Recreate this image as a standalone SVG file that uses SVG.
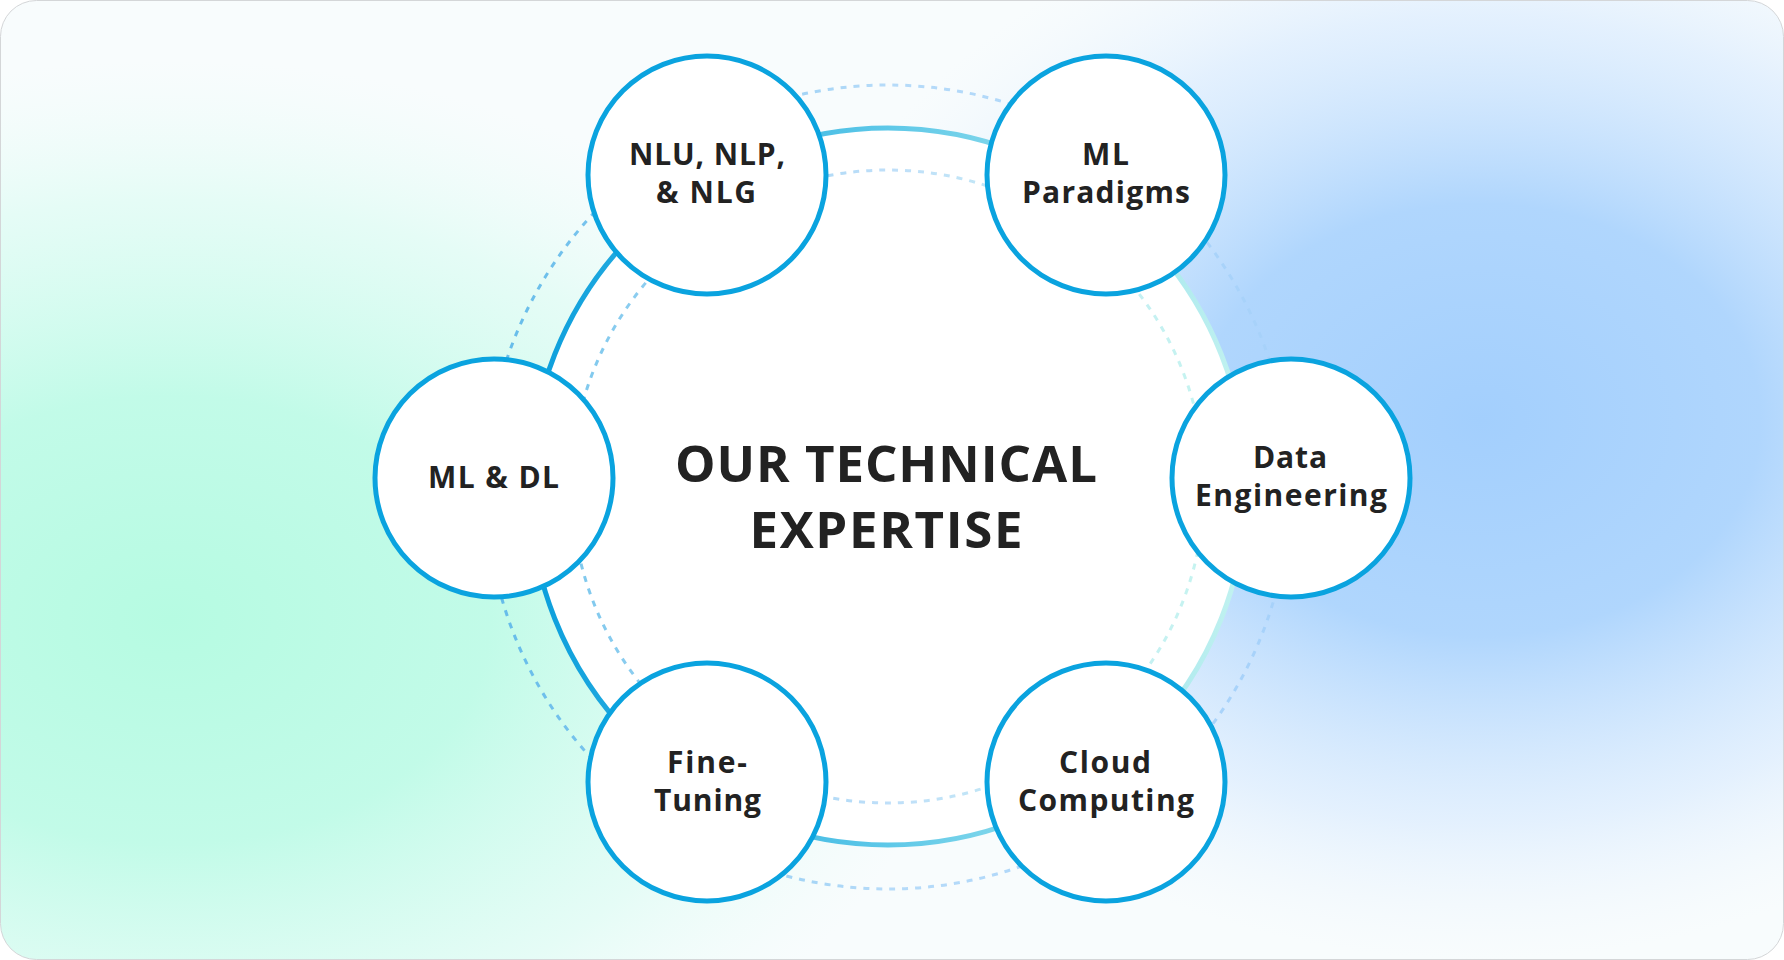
<svg xmlns="http://www.w3.org/2000/svg" width="1784" height="960" viewBox="0 0 1784 960">
  <defs>
    <radialGradient id="mint" gradientUnits="userSpaceOnUse" cx="0" cy="0" r="1" gradientTransform="translate(170 620) scale(800 560)">
      <stop offset="0" stop-color="#b6fbe2" stop-opacity="1"/>
      <stop offset="0.4" stop-color="#bffbe7" stop-opacity="0.95"/>
      <stop offset="0.75" stop-color="#d2fcef" stop-opacity="0.5"/>
      <stop offset="1" stop-color="#e6fdf6" stop-opacity="0"/>
    </radialGradient>
    <radialGradient id="blue" gradientUnits="userSpaceOnUse" cx="0" cy="0" r="1" gradientTransform="translate(1480 420) scale(700 540)">
      <stop offset="0" stop-color="#a3cffd" stop-opacity="1"/>
      <stop offset="0.4" stop-color="#acd4fd" stop-opacity="0.95"/>
      <stop offset="0.75" stop-color="#cfe5fe" stop-opacity="0.5"/>
      <stop offset="1" stop-color="#eaf3fe" stop-opacity="0"/>
    </radialGradient>
    <linearGradient id="ringSolid" gradientUnits="userSpaceOnUse" x1="529" y1="0" x2="1247" y2="0">
      <stop offset="0" stop-color="#0a9edc"/>
      <stop offset="0.5" stop-color="#5ec8e8"/>
      <stop offset="1" stop-color="#c4f3f0"/>
    </linearGradient>
    <linearGradient id="ringOuter" gradientUnits="userSpaceOnUse" x1="486" y1="0" x2="1290" y2="0">
      <stop offset="0" stop-color="#62bbe9"/>
      <stop offset="0.5" stop-color="#b6dbf9"/>
      <stop offset="1" stop-color="#a6d1fa"/>
    </linearGradient>
    <linearGradient id="ringInner" gradientUnits="userSpaceOnUse" x1="571" y1="0" x2="1205" y2="0">
      <stop offset="0" stop-color="#7ec8ed"/>
      <stop offset="0.5" stop-color="#bfdff9"/>
      <stop offset="1" stop-color="#c6f4f0"/>
    </linearGradient>
    <clipPath id="frame">
      <rect x="0.5" y="0.5" width="1783" height="959" rx="36" ry="36"/>
    </clipPath>
  </defs>
  <style>
    .node circle { fill: #ffffff; stroke: #0aa3df; stroke-width: 5; }
    .lbl { font-family: "Open Sans", "Noto Sans", "Liberation Sans", sans-serif; font-weight: 700; font-size: 30px; fill: #222222; text-anchor: middle; font-variant-ligatures: none; }
    .title { font-family: "Open Sans", "Noto Sans", "Liberation Sans", sans-serif; font-weight: 700; font-size: 51px; fill: #222222; text-anchor: middle; font-variant-ligatures: none; }
    .dash { fill: none; stroke-width: 3; stroke-dasharray: 6 7; }
  </style>

  <rect x="0" y="0" width="1784" height="960" fill="#ffffff"/>
  <g clip-path="url(#frame)">
    <rect x="0" y="0" width="1784" height="960" fill="#f8fcfd"/>
    <rect x="0" y="0" width="1784" height="960" fill="url(#mint)"/>
    <rect x="0" y="0" width="1784" height="960" fill="url(#blue)"/>
  </g>
  <rect x="0.5" y="0.5" width="1783" height="959" rx="36" ry="36" fill="none" stroke="#d4d6d8" stroke-width="1"/>

  <g id="rings">
    <circle cx="888" cy="487" r="402" class="dash" stroke="url(#ringOuter)"/>
    <circle cx="888" cy="486.5" r="358.5" fill="#ffffff" stroke="url(#ringSolid)" stroke-width="5"/>
    <circle cx="888" cy="486.5" r="316.5" class="dash" stroke="url(#ringInner)"/>
  </g>

  <g id="center">
    <text class="title" x="886" y="482" textLength="422" lengthAdjust="spacing">OUR TECHNICAL</text>
    <text class="title" x="886" y="548" textLength="273" lengthAdjust="spacing">EXPERTISE</text>
  </g>

  <g id="node-nlu" class="node">
    <circle cx="707" cy="175" r="119"/>
    <text class="lbl" x="707" y="165" textLength="156" lengthAdjust="spacing">NLU, NLP,</text>
    <text class="lbl" x="706" y="203" textLength="100" lengthAdjust="spacing">&amp; NLG</text>
  </g>
  <g id="node-ml-paradigms" class="node">
    <circle cx="1106" cy="175" r="119"/>
    <text class="lbl" x="1105.5" y="165" textLength="47" lengthAdjust="spacing">ML</text>
    <text class="lbl" x="1106" y="203" textLength="168" lengthAdjust="spacing">Paradigms</text>
  </g>
  <g id="node-data-engineering" class="node">
    <circle cx="1291" cy="478" r="119"/>
    <text class="lbl" x="1290" y="468" textLength="74" lengthAdjust="spacing">Data</text>
    <text class="lbl" x="1291" y="506" textLength="192" lengthAdjust="spacing">Engineering</text>
  </g>
  <g id="node-cloud-computing" class="node">
    <circle cx="1106" cy="782" r="119"/>
    <text class="lbl" x="1105" y="773" textLength="92" lengthAdjust="spacing">Cloud</text>
    <text class="lbl" x="1106" y="811" textLength="176" lengthAdjust="spacing">Computing</text>
  </g>
  <g id="node-fine-tuning" class="node">
    <circle cx="707" cy="782" r="119"/>
    <text class="lbl" x="707" y="773" textLength="80" lengthAdjust="spacing">Fine-</text>
    <text class="lbl" x="707.5" y="811" textLength="107" lengthAdjust="spacing">Tuning</text>
  </g>
  <g id="node-ml-dl" class="node">
    <circle cx="494" cy="478" r="119"/>
    <text class="lbl" x="493.5" y="488" textLength="131" lengthAdjust="spacing">ML &amp; DL</text>
  </g>
</svg>
